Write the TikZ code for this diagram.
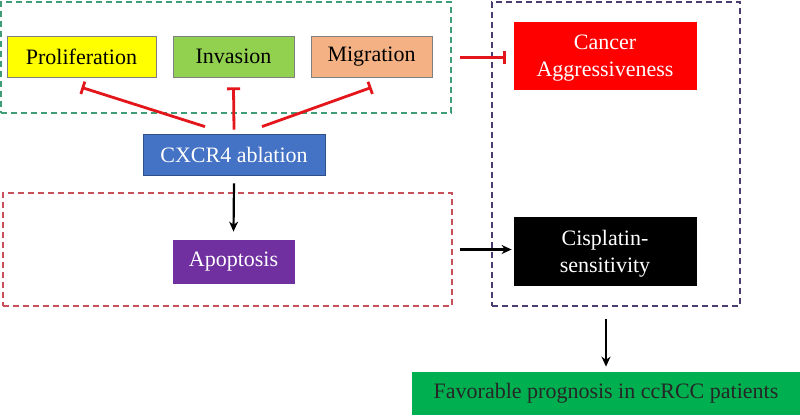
\documentclass[tikz,border=0pt]{standalone}
\usepackage{fontspec}
\setmainfont{Liberation Serif}
\usetikzlibrary{arrows.meta}
\definecolor{prolifyellow}{HTML}{FFFF00}
\definecolor{invgreen}{HTML}{92D050}
\definecolor{migpeach}{HTML}{F4B183}
\definecolor{cxblue}{HTML}{4472C4}
\definecolor{cancerred}{HTML}{FF0000}
\definecolor{apopurple}{HTML}{7030A0}
\definecolor{progreen}{HTML}{00B050}
\definecolor{inhibred}{HTML}{E3161B}
\definecolor{grpgreen}{HTML}{3E9E78}
\definecolor{grpred}{HTML}{C8505A}
\definecolor{grppurple}{HTML}{4B3D6E}

\begin{document}
\begin{tikzpicture}[x=1pt,y=-1pt,
    box/.style={draw=black!50, line width=0.8pt, inner sep=0pt, align=center,
      font=\fontsize{22}{27}\selectfont},
    grp/.style={line width=1.2pt, dash pattern=on 6pt off 4pt, inner sep=0pt},
    inhib/.style={draw=inhibred, line width=2.8pt, -{Bar[width=13pt]}},
    act/.style={draw=black, line width=2.2pt, -{Stealth[length=10pt,width=9pt]}}]
  \useasboundingbox (0,0) rectangle (800,420);
  % dashed groups
  \node[grp, draw=grpgreen, minimum width=450pt, minimum height=111pt] (upgrp) at (226,57.5) {};
  \node[grp, draw=grpred, minimum width=449pt, minimum height=113pt] (downgrp) at (227.5,249.5) {};
  \node[grp, draw=grppurple, minimum width=248pt, minimum height=304pt] (outgrp) at (616,154) {};
  % top row of effects
  \foreach \nm/\txt/\xc/\bw/\clr in {
    prolif/Proliferation/81.5/149/prolifyellow,
    inv/Invasion/233.5/121/invgreen,
    mig/Migration/371.5/121/migpeach%
  }{
    \node[box, fill=\clr, minimum width=\bw pt, minimum height=41pt] (\nm) at (\xc,56.5) {\txt};
  }
  \node[box, fill=cxblue, draw=cxblue!70!black, text=white, minimum width=182pt, minimum height=41pt] (cx) at (234,154.5) {CXCR4 ablation};
  \node[box, fill=apopurple, draw=apopurple, text=white, minimum width=121pt, minimum height=43pt] (apo) at (233.5,261.5) {Apoptosis};
  \node[box, fill=cancerred, draw=cancerred, text=white, minimum width=182pt, minimum height=67pt] (cancer) at (605,55.5) {Cancer\\\smash{Aggressiveness}};
  \node[box, fill=black, draw=black, text=white, minimum width=182pt, minimum height=68pt] (cis) at (605,251) {Cisplatin-\\\smash{sensitivity}};
  \node[box, fill=progreen, draw=progreen, text=black!85, minimum width=388pt, minimum height=42pt] (fav) at (606,393) {Favorable prognosis in ccRCC patients};
  % inhibition
  \foreach \nm/\dx/\dy in {prolif/-29/-7, inv/0/-4, mig/28/-7}
    \draw[inhib] ([shift={(\dx,\dy)}]cx.north) -- ([yshift=-10pt]\nm.south);
  \draw[inhib] ([xshift=8pt]upgrp.east) -- ([xshift=-8pt]cancer.west |- upgrp.east);
  % activation
  \draw[act] ([yshift=-8pt]cx.south) -- ([yshift=8pt]apo.north);
  \draw[act] ([xshift=7pt]downgrp.east) -- ([xshift=-2pt]cis.west |- downgrp.east);
  \draw[act] ([yshift=-12pt]fav.north |- outgrp.south) -- ([yshift=5pt]fav.north);
\end{tikzpicture}
\end{document}
